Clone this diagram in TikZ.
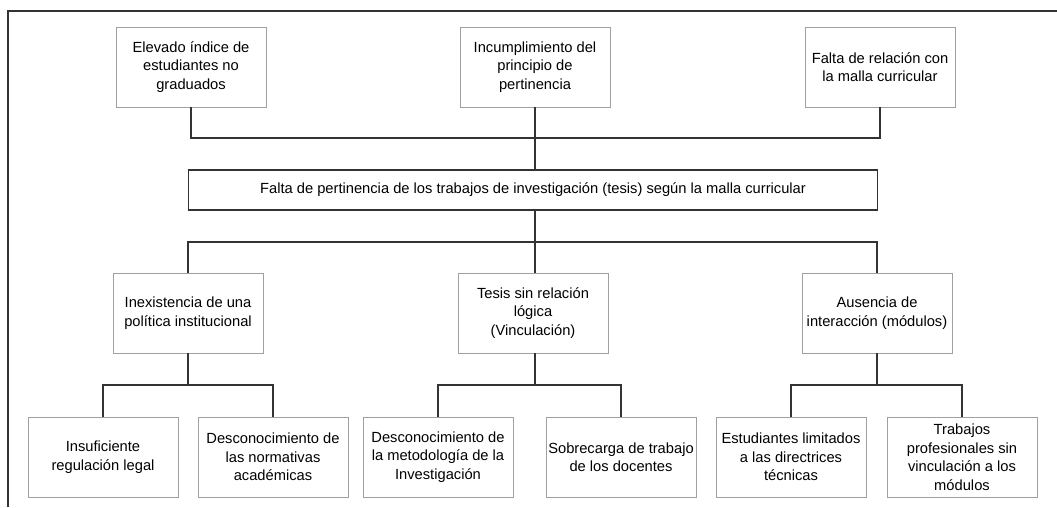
\documentclass[tikz,border=0pt]{standalone}
\usepackage{fontspec}
\setmainfont{Liberation Sans}
\usepackage{xcolor}
\usetikzlibrary{positioning,calc}
\definecolor{boxline}{HTML}{A0A0A0}
\definecolor{wire}{HTML}{333333}

\begin{document}
\begin{tikzpicture}[x=1pt,y=-1pt,
    cause/.style={draw=boxline,line width=0.9pt,rectangle,minimum width=150pt,minimum height=80pt,align=center,inner sep=2pt,font=\fontsize{14.7}{18.5}\selectfont},
    problem/.style={draw=wire,line width=1.3pt,rectangle,minimum width=689pt,minimum height=40pt,font=\fontsize{14.7}{18.5}\selectfont},
    wireline/.style={draw=wire,line width=1.3pt}]
        \useasboundingbox (0,0) rectangle (1057,507);
        % Frame
        \draw[wireline] (8,507) -- (8,11) -- (1057,11);

        % Effects
        \node[cause] (e1) at (191,67) {Elevado índice de\\estudiantes no\\graduados};
        \node[cause] (e2) at (535,67) {Incumplimiento del\\principio de\\pertinencia};
        \node[cause] (e3) at (880,67) {Falta de relación con\\la malla curricular};

        % Central problem
        \node[problem] (m) at (533,190) {Falta de pertinencia de los trabajos de investigación (tesis) según la malla curricular};

        % Causes
        \node[cause] (p1) at (188,313) {Inexistencia de una\\política institucional};
        \node[cause] (p2) at (533,313) {Tesis sin relación\\lógica\\(Vinculación)};
        \node[cause] (p3) at (877,313) {Ausencia de\\interacción (módulos)};

        % Sub-causes
        \node[cause] (s1) at (103,457) {Insuficiente\\regulación legal};
        \node[cause] (s2) at (273,457) {Desconocimiento de\\las normativas\\académicas};
        \node[cause] (s3) at (438,457) {Desconocimiento de\\la metodología de la\\Investigación};
        \node[cause] (s4) at (621,457) {Sobrecarga de trabajo\\de los docentes};
        \node[cause] (s5) at (791,457) {Estudiantes limitados\\a las directrices\\técnicas};
        \node[cause] (s6) at (962,457) {Trabajos\\profesionales sin\\vinculación a los\\módulos};

        % Junctions
        \coordinate (jt) at (535,138);
        \coordinate (jm) at (535,242);
        \foreach \i/\x in {1/188,2/535,3/877} {
            \coordinate (k\i) at (\x,385);
        }

        % Connectors
        \draw[wireline] (e1.south) |- (jt) -| (e3.south);
        \draw[wireline] (e2.south) -- (jt) -- (m.north -| jt);
        \draw[wireline] (m.south -| jm) -- (jm);
        \draw[wireline] (p1.north) |- (jm) -| (p3.north);
        \draw[wireline] (jm) -- (p2.north -| jm);
        \foreach \i/\a/\b in {1/1/2,2/3/4,3/5/6} {
            \draw[wireline] (p\i.south -| k\i) -- (k\i);
            \draw[wireline] (s\a.north) |- (k\i) -| (s\b.north);
        }
    \end{tikzpicture}
\end{document}
